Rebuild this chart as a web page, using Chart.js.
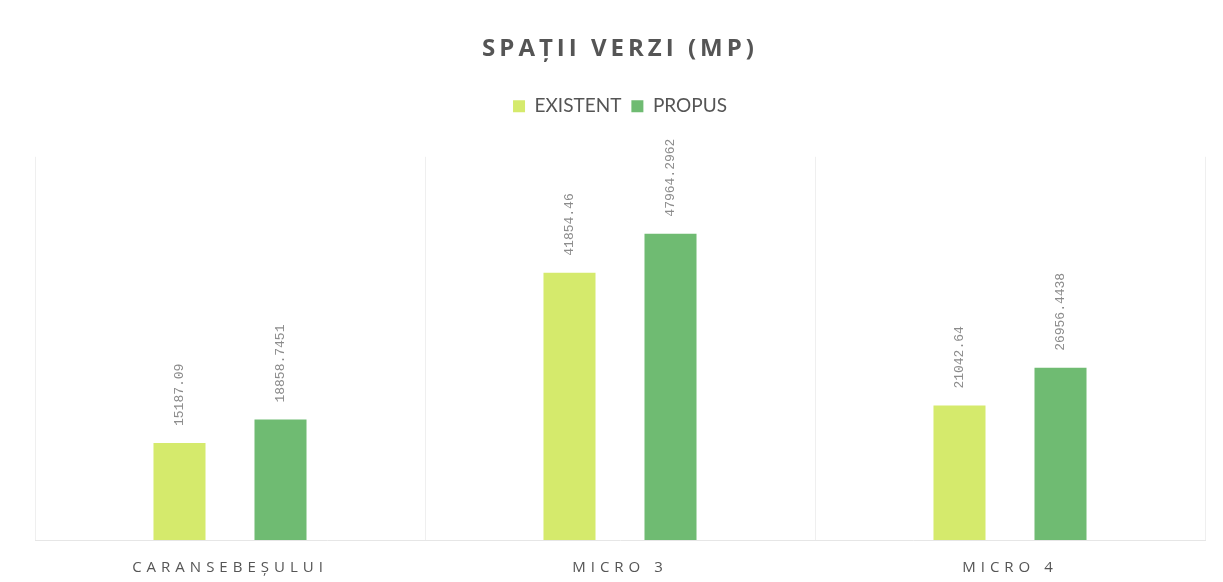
<!DOCTYPE html>
<html>
<head>
<meta charset="utf-8">
<script src="https://cdn.jsdelivr.net/npm/chart.js@4/dist/chart.umd.min.js"></script>
<style>
html,body{margin:0;padding:0;background:#fff;}
#wrap{width:1223px;height:582px;position:relative;}
</style>
</head>
<body>
<div id="wrap"><canvas id="c"></canvas></div>
<script>
const categories = ["CARANSEBEȘULUI", "MICRO 3", "MICRO 4"];
const existent = [15187.09, 41854.46, 21042.64];
const propus = [18858.7451, 47964.2962, 26956.4438];
const seriesNames = ["EXISTENT", "PROPUS"];
const valueLabels = [
  ["15187.09", "41854.46", "21042.64"],
  ["18858.7451", "47964.2962", "26956.4438"]
];

const spacingPlugin = {
  id: 'spacing',
  afterInit(chart) {
    const lg = chart.legend;
    if (lg && !lg._wrappedFit) {
      lg._wrappedFit = true;
      const of = lg.fit.bind(lg);
      lg.fit = function() { of(); this.height += 31; };
    }
  },
  beforeDraw(chart) {
    if (chart._wrapped) return;
    chart._wrapped = true;
    const ctx = chart.ctx;
    const t = chart.titleBlock;
    const od = t.draw.bind(t);
    t.draw = function() { ctx.save(); ctx.letterSpacing = '4px'; od(); ctx.restore(); };
    const x = chart.scales.x;
    const ox = x.drawLabels.bind(x);
    x.drawLabels = function(a) { ctx.save(); ctx.letterSpacing = '5px'; ox(a); ctx.restore(); };
  }
};

const labelPlugin = {
  id: 'vlabels',
  afterDatasetsDraw(chart) {
    const ctx = chart.ctx;
    chart.data.datasets.forEach((ds, di) => {
      const meta = chart.getDatasetMeta(di);
      meta.data.forEach((bar, i) => {
        ctx.save();
        ctx.translate(bar.x, bar.y - 17);
        ctx.rotate(-Math.PI / 2);
        ctx.font = '13px "Liberation Mono"';
        ctx.fillStyle = '#8c8c8c';
        ctx.textAlign = 'left';
        ctx.textBaseline = 'middle';
        ctx.fillText(valueLabels[di][i], 0, 0);
        ctx.restore();
      });
    });
  }
};

new Chart(document.getElementById('c'), {
  type: 'bar',
  data: {
    labels: categories,
    datasets: [
      { label: seriesNames[0], data: existent, backgroundColor: '#d5ea6c', categoryPercentage: 0.518, barPercentage: 0.515 },
      { label: seriesNames[1], data: propus, backgroundColor: '#6fbb72', categoryPercentage: 0.518, barPercentage: 0.515 }
    ]
  },
  options: {
    responsive: true,
    maintainAspectRatio: false,
    animation: false,
    layout: { padding: { left: 35, right: 18, top: 0, bottom: 0 } },
    plugins: {
      title: {
        display: true,
        text: 'SPAȚII VERZI (MP)',
        color: '#555555',
        font: { family: '"Open Sans"', size: 24, weight: 'bold' },
        padding: { top: 35, bottom: 23 }
      },
      legend: {
        display: true,
        position: 'top',
        labels: {
          color: '#555555',
          font: { family: 'Lato', size: 19 },
          boxWidth: 12,
          boxHeight: 12,
          padding: 10
        }
      },
      tooltip: { enabled: false }
    },
    scales: {
      x: {
        grid: { display: true, offset: true, color: '#efefef', drawTicks: false },
        border: { display: true, color: '#e6e6e6' },
        afterFit(scale) { scale.height = 42; },
        ticks: { color: '#555555', font: { family: '"Open Sans"', size: 15 }, padding: 19, maxRotation: 0 }
      },
      y: {
        display: false,
        min: 0,
        max: 60000
      }
    }
  },
  plugins: [spacingPlugin, labelPlugin]
});
</script>
</body>
</html>
